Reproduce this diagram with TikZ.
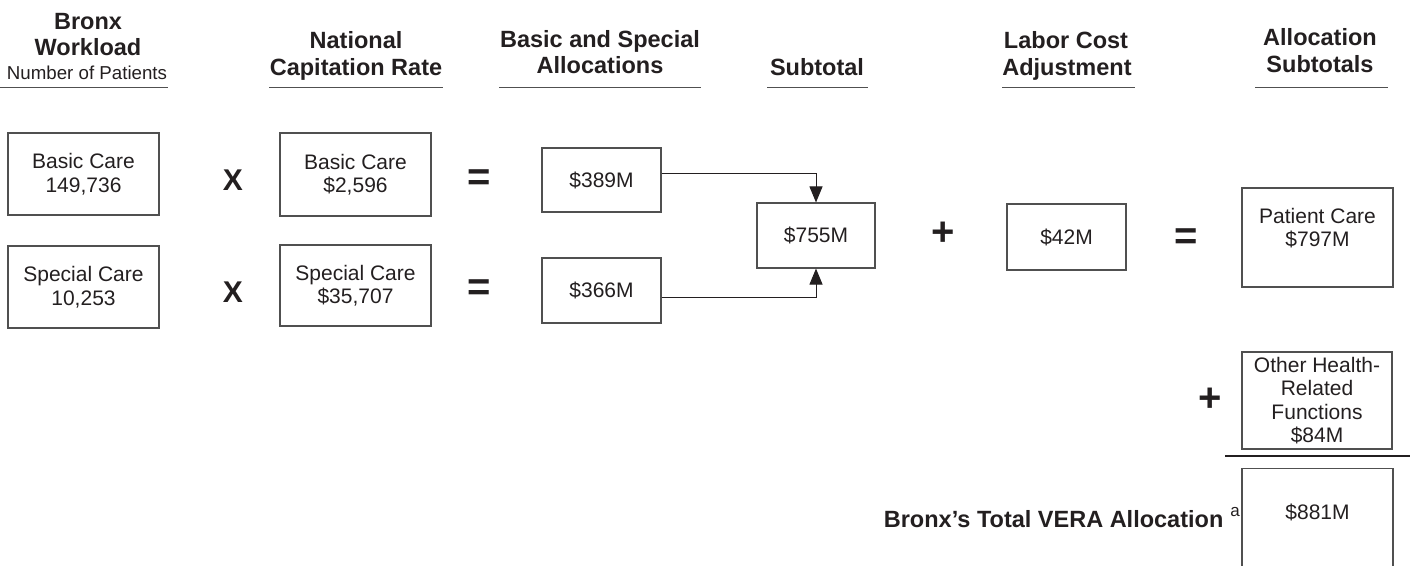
\documentclass[tikz,border=0pt]{standalone}
\usepackage{fontspec}
\setmainfont{Liberation Sans}
\usetikzlibrary{arrows.meta}
\definecolor{ink}{HTML}{231F20}
\definecolor{frame}{HTML}{505050}
\begin{document}
\begin{tikzpicture}[x=1pt,y=-1pt,
  box/.style={draw=frame, line width=1.1pt, inner sep=0pt, align=center,
    font=\fontsize{21}{23.5}\selectfont, text=ink},
  hd/.style={font=\bfseries\fontsize{23.5}{26}\selectfont, text=ink, anchor=base, inner sep=0pt},
  subhd/.style={font=\fontsize{18.7}{22}\selectfont, text=ink, anchor=base, inner sep=0pt},
  hrule/.style={draw=frame, line width=1.8pt},
  op/.style={font=\bfseries\fontsize{30}{30}\selectfont, text=ink, inner sep=0pt},
  bigop/.style={font=\bfseries\fontsize{40}{40}\selectfont, text=ink, inner sep=0pt},
  conn/.style={draw=ink, line width=1pt, -{Triangle[length=16pt,width=13pt]}},
]
\useasboundingbox (0,0) rectangle (1410,565);
\clip (0,0) rectangle (1410,565);

% headers
\node[hd] (h1a) at (88,29) {Bronx};
\node[hd] (h1b) at (88,55) {Workload};
\node[subhd] (h1c) at (87,79) {Number of Patients};
\draw[hrule] (0,87.5) -- (168,87.5);

\node[hd] (h2a) at (356,48) {National};
\node[hd] (h2b) at (356,75) {Capitation Rate};
\draw[hrule] (269,87.5) -- (443,87.5);

\node[hd] (h3a) at (600,47) {Basic and Special};
\node[hd] (h3b) at (600,73) {Allocations};
\draw[hrule] (499,87.5) -- (701,87.5);

\node[hd] (h4a) at (817,75) {Subtotal};
\draw[hrule] (767,87.5) -- (868,87.5);

\node[hd] (h5a) at (1066,48) {Labor Cost};
\node[hd] (h5b) at (1067,75) {Adjustment};
\draw[hrule] (1002,87.5) -- (1135,87.5);

\node[hd] (h6a) at (1320,45) {Allocation};
\node[hd] (h6b) at (1320,72) {Subtotals};
\draw[hrule] (1255,87.5) -- (1388,87.5);

% boxes
\node[box, minimum width=151, minimum height=82] (wb) at (83.5,174) {Basic Care\\149,736};
\node[box, minimum width=151, minimum height=82] (ws) at (83.5,287) {Special Care\\10,253};
\node[box, minimum width=151, minimum height=83] (rb) at (355.5,174.5) {Basic Care\\\$2,596};
\node[box, minimum width=151, minimum height=81] (rs) at (355.5,285.5) {Special Care\\\$35,707};
\node[box, minimum width=119, minimum height=64] (ab) at (601.5,180) {\$389M};
\node[box, minimum width=119, minimum height=65] (as) at (601.5,290.5) {\$366M};
\node[box, minimum width=118, minimum height=65] (st) at (816,235.5) {\$755M};
\node[box, minimum width=119, minimum height=66] (lc) at (1066.5,237) {\$42M};
\node[box, minimum width=151, minimum height=99] (pc) at (1317.5,237.5) {};
\node[box, draw=none] (pctext) at ([yshift=9.5pt]pc.center) {Patient Care\\\$797M};
\node[box, minimum width=150, minimum height=97] (oh) at (1317,400.5) {Other Health-\\Related\\Functions\\\$84M};
\node[box, minimum width=151, minimum height=120, anchor=north] (tot) at (1317.5,468) {};
\node[box, draw=none] (tottext) at (1317.5,512) {\$881M};

% operators
\node[op] (x1) at (233,180) {X};
\node[op] (x2) at (233,292) {X};
\node[bigop] (e1) at (479,180) {=};
\node[bigop] (e2) at (479,290) {=};
\node[bigop] (p1) at (943,234) {+};
\node[bigop] (e3) at (1186,239) {=};
\node[bigop] (p2) at (1210,400) {+};

% connectors
\draw[conn] ([yshift=7pt]ab.east) -| (st.north);
\draw[conn] ([yshift=-6.5pt]as.east) -| (st.south);

% sum line
\draw[draw=ink, line width=2.4pt] (1225,456) -- (1410,456);

\node[hd, anchor=base east] (totlab) at (1240,527)
  {Bronx’s Total VERA Allocation\hspace{7pt}\raisebox{11pt}{\fontsize{17}{17}\mdseries\selectfont a}};
\end{tikzpicture}
\end{document}
